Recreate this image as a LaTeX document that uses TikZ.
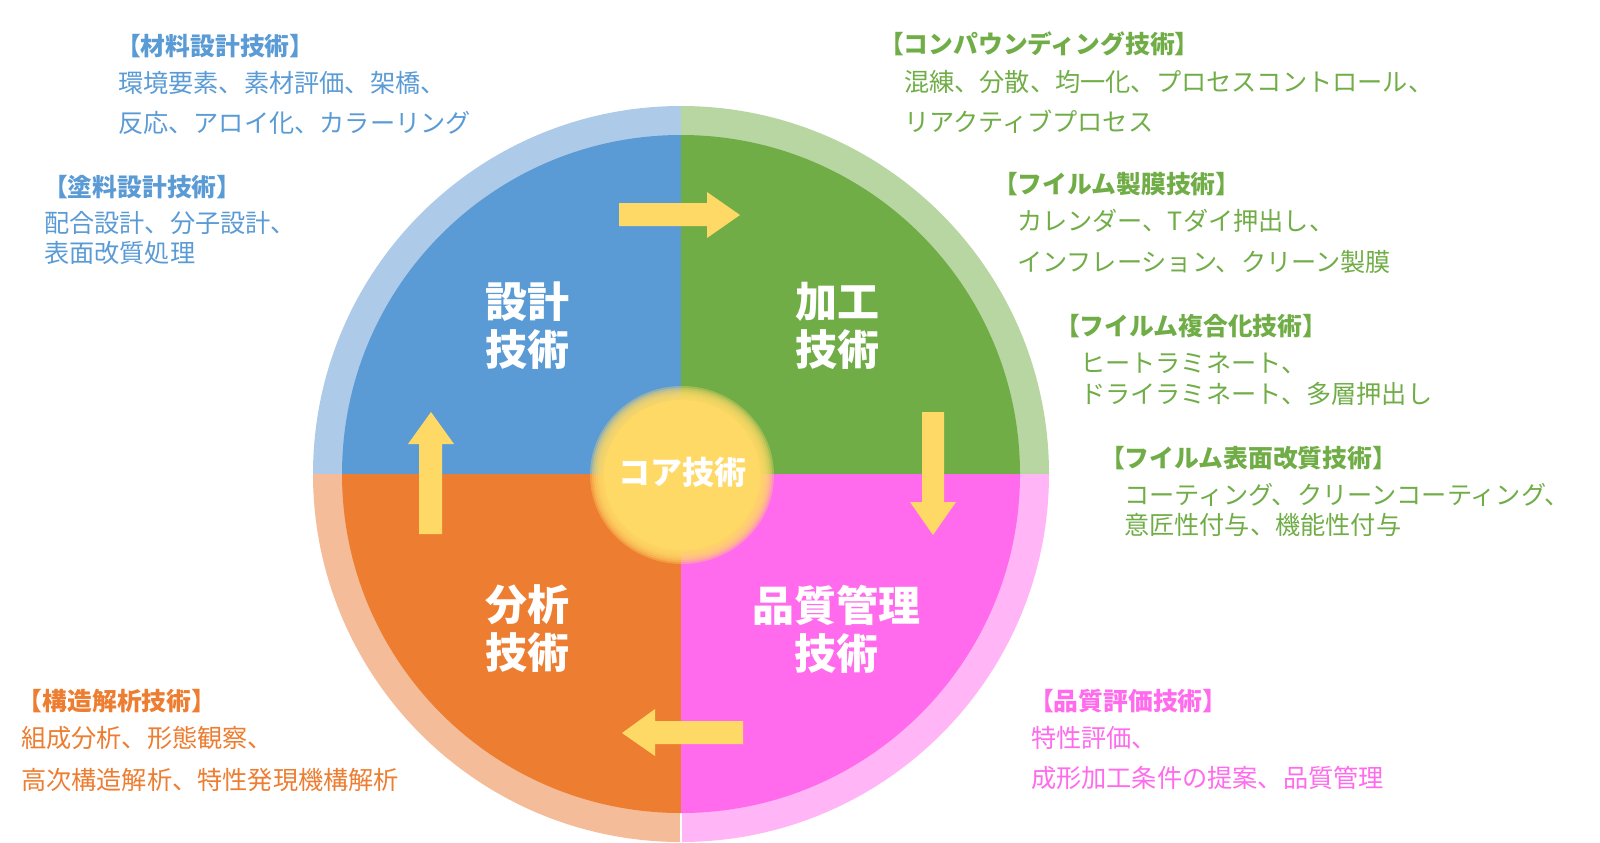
\documentclass[tikz,border=0pt]{standalone}
\usepackage{fontspec}
\setmainfont{Noto Sans CJK JP}
\definecolor{cblue}{RGB}{91,155,213}
\definecolor{cbluel}{RGB}{173,203,233}
\definecolor{cgreen}{RGB}{112,173,71}
\definecolor{cgreenl}{RGB}{184,214,162}
\definecolor{corange}{RGB}{237,125,49}
\definecolor{corangel}{RGB}{244,188,152}
\definecolor{cpink}{RGB}{255,107,236}
\definecolor{cpinkl}{RGB}{255,181,246}
\definecolor{cyel}{RGB}{255,217,102}
\tikzset{
  head/.style={anchor=west,inner sep=0pt,outer sep=0pt,font=\bfseries\fontsize{12.4pt}{14pt}\selectfont},
  body/.style={anchor=west,inner sep=0pt,outer sep=0pt,font=\fontsize{12.6pt}{14pt}\selectfont},
  quad/.style={inner sep=0pt,text=white,align=center,font=\bfseries\fontsize{21pt}{24pt}\selectfont},
  blockarrow/.style={fill=cyel,draw=none},
}
\begin{document}
\begin{tikzpicture}[x=0.5pt,y=-0.5pt]
\useasboundingbox (0,0) rectangle (1600,842);
\coordinate (c) at (681,474);
% ring
\begin{scope}
\clip (c) circle[radius=184pt];
\fill[cbluel] (c) rectangle (300,90);
\fill[cgreenl] (c) rectangle (1060,90);
\fill[cpinkl] (c) rectangle (1060,860);
\fill[corangel] (c) rectangle (300,860);
\end{scope}
\draw[white,line width=0.6pt] (681,812) -- (681,843);
% inner quadrants
\begin{scope}
\clip (c) circle[radius=169.5pt];
\fill[cblue] (c) rectangle (300,90);
\fill[cgreen] (c) rectangle (1060,90);
\fill[cpink] (c) rectangle (1060,860);
\fill[corange] (c) rectangle (300,860);
\end{scope}
% core glow
\foreach \d in {6,4,...,-6}{
  \pgfmathsetmacro\rx{(86+\d)/2}
  \pgfmathsetmacro\ry{(83+\d)/2}
  \fill[cyel,opacity=0.35] (682,475) ellipse[x radius=\rx pt,y radius=\ry pt];
}
\fill[cyel] (682,475) ellipse[x radius=39pt,y radius=37.5pt];
\node[inner sep=0pt,text=white,font=\bfseries\fontsize{16pt}{18pt}\selectfont] (core) at (682,472) {コア技術};
% quadrant labels
\node[quad] (q1) at (527,326) {設計\\技術};
\node[quad] (q2) at (837,326) {加工\\技術};
\node[quad] (q3) at (527,629) {分析\\技術};
\node[quad] (q4) at (836,629) {品質管理\\技術};
% block arrows
\fill[blockarrow] (619,203) -- (707,203) -- (707,192) -- (740,215) -- (707,238) -- (707,226) -- (619,226) -- cycle;
\fill[blockarrow] (922,412) -- (944,412) -- (944,502) -- (956,502) -- (933,535) -- (910,502) -- (922,502) -- cycle;
\fill[blockarrow] (743,721) -- (655,721) -- (655,709) -- (622,733) -- (655,756) -- (655,744) -- (743,744) -- cycle;
\fill[blockarrow] (419,534) -- (419,444) -- (408,444) -- (431,412) -- (454,444) -- (442,444) -- (442,534) -- cycle;
% left texts
\node[head,text=cblue] (h1) at (116,46) {【材料設計技術】};
\node[body,text=cblue] (h1a) at (118,83) {環境要素、素材評価、架橋、};
\node[body,text=cblue] (h1b) at (118,123) {反応、アロイ化、カラーリング};
\node[head,text=cblue] (h2) at (43,187) {【塗料設計技術】};
\node[body,text=cblue] (h2a) at (44,223) {配合設計、分子設計、};
\node[body,text=cblue] (h2b) at (44,253) {表面改質処理};
\node[head,text=corange] (h3) at (18,701) {【構造解析技術】};
\node[body,text=corange] (h3a) at (21,738) {組成分析、形態観察、};
\node[body,text=corange] (h3b) at (21,780) {高次構造解析、特性発現機構解析};
% right texts
\node[head,text=cgreen] (h4) at (879,44) {【コンパウンディング技術】};
\node[body,text=cgreen] (h4a) at (904,82) {混練、分散、均一化、プロセスコントロール、};
\node[body,text=cgreen] (h4b) at (904,122) {リアクティブプロセス};
\node[head,text=cgreen] (h5) at (993,184) {【フイルム製膜技術】};
\node[body,text=cgreen] (h5a) at (1017,221) {カレンダー、Tダイ押出し、};
\node[body,text=cgreen] (h5b) at (1017,262) {インフレーション、クリーン製膜};
\node[head,text=cgreen] (h6) at (1055,326) {【フイルム複合化技術】};
\node[body,text=cgreen] (h6a) at (1080,363) {ヒートラミネート、};
\node[body,text=cgreen] (h6b) at (1080,394) {ドライラミネート、多層押出し};
\node[head,text=cgreen] (h7) at (1100,458) {【フイルム表面改質技術】};
\node[body,text=cgreen] (h7a) at (1124,495) {コーティング、クリーンコーティング、};
\node[body,text=cgreen] (h7b) at (1124,525) {意匠性付与、機能性付与};
\node[head,text=cpink] (h8) at (1029,701) {【品質評価技術】};
\node[body,text=cpink] (h8a) at (1031,738) {特性評価、};
\node[body,text=cpink] (h8b) at (1031,778) {成形加工条件の提案、品質管理};
\end{tikzpicture}
\end{document}
